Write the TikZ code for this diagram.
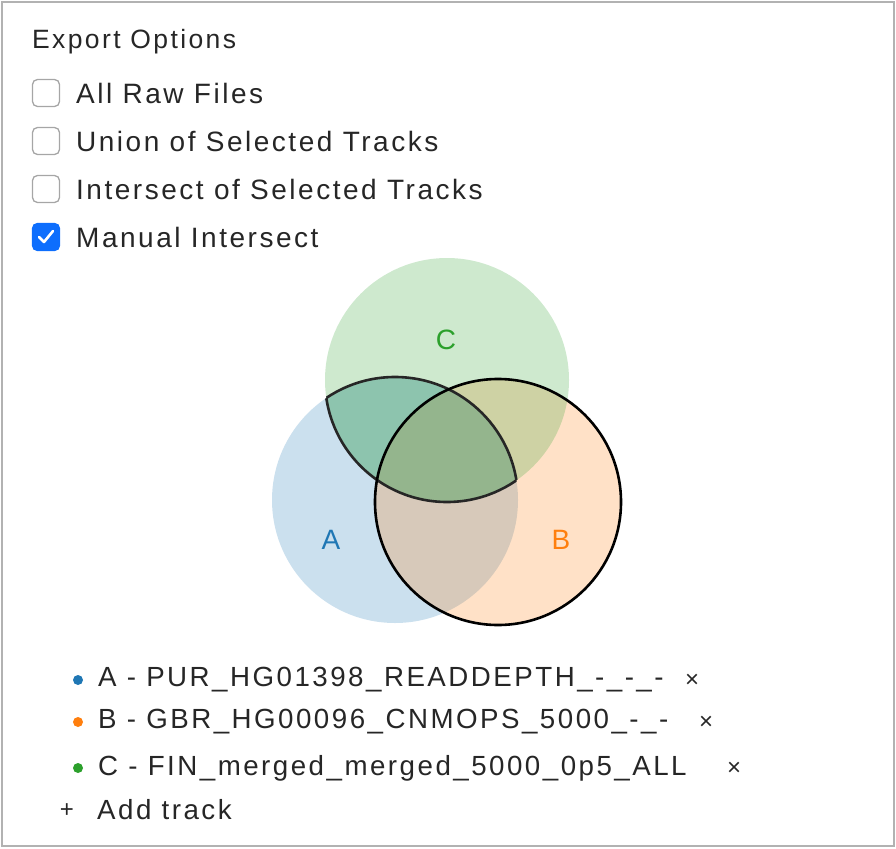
\documentclass[tikz,border=0pt]{standalone}
\usepackage{fontspec}
\setmainfont{Liberation Sans}[LetterSpace=9]
\definecolor{ca}{RGB}{31,119,180}
\definecolor{cb}{RGB}{255,127,14}
\definecolor{cc}{RGB}{44,160,44}
\definecolor{chk}{RGB}{13,110,253}
\begin{document}
\begin{tikzpicture}[x=1pt,y=-1pt,
  lbl/.style={anchor=west,inner sep=0pt,font=\fontsize{28}{32}\selectfont,text=black!85},
  leg/.style={lbl,font=\fontsize{27.7}{32}\selectfont},
  xs/.style={anchor=center,inner sep=0pt,font=\fontsize{24}{26}\selectfont,text=black!85},
  box/.style={draw=black!35,line width=1.3pt,rounded corners=5pt,minimum size=27pt,inner sep=0pt},
  dotn/.style={circle,minimum size=10pt,inner sep=0pt}]
\useasboundingbox (0,0) rectangle (896,848);
\draw[black!30,line width=1.5pt] (2,2) rectangle (894,846);
\node[lbl,font=\fontsize{26.5}{30}\selectfont] (title) at (32,42) {Export Options};
\foreach \y/\t/\n in {93/All Raw Files/o1,141/Union of Selected Tracks/o2,189/Intersect of Selected Tracks/o3}{
  \node[box] (b\n) at (46,\y) {};
  \node[lbl] (t\n) at (76,\y) {\t};}
\node[box,fill=chk,draw=chk] (bo4) at (46,237) {};
\draw[white,line width=2.6pt,line cap=round,line join=round] (39,237) -- (44,242) -- (53,231);
\node[lbl] (to4) at (76,237) {Manual Intersect};
% venn
\fill[ca,fill opacity=0.23] (395,500) circle (123);
\fill[cb,fill opacity=0.23] (498,502) circle (123);
\fill[cc,fill opacity=0.23] (447,380) circle (122);
\begin{scope}
\clip (395,500) circle (123);
\fill[cc!60!ca,fill opacity=0.2] (447,380) circle (122);
\end{scope}
\begin{scope}
\clip (395,500) circle (123);
\draw[black!85,line width=2.6pt] (447,380) circle (122);
\end{scope}
\begin{scope}
\clip (447,380) circle (122);
\draw[black!85,line width=2.6pt] (395,500) circle (123);
\end{scope}
\draw[black,line width=2.6pt] (498,502) circle (123);
\node[lbl,anchor=center,text=cc] (lc) at (446,340) {C};
\node[lbl,anchor=center,text=ca] (la) at (331,540) {A};
\node[lbl,anchor=center,text=cb] (lb) at (561,540) {B};
% legend
\node[dotn,fill=ca] (da) at (78,680) {};
\node[leg] (ta) at (98,680) {A - PUR\_HG01398\_READDEPTH\_-\_-\_-};
\node[xs] (xa) at (692,681) {×};
\node[dotn,fill=cb] (db) at (78,722) {};
\node[leg] (tb) at (98,722) {B - GBR\_HG00096\_CNMOPS\_5000\_-\_-};
\node[xs] (xb) at (706,723) {×};
\node[dotn,fill=cc] (dc) at (78,768) {};
\node[leg] (tc) at (98,768) {C - FIN\_merged\_merged\_5000\_0p5\_ALL};
\node[xs] (xc) at (734,769) {×};
\node[xs] (plus) at (67,811) {+};
\node[leg] (add) at (97,810) {Add track};
\end{tikzpicture}
\end{document}
